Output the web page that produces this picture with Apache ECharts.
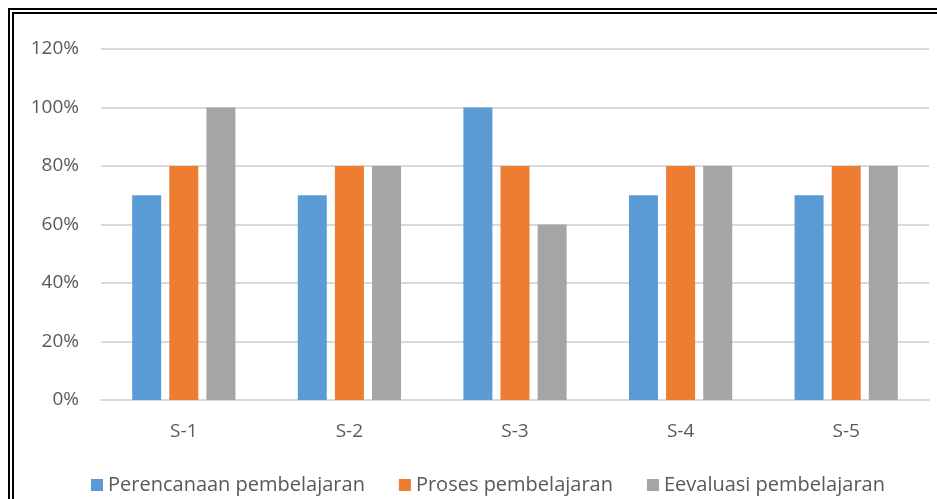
<!DOCTYPE html>
<html>
<head>
<meta charset="utf-8">
<script src="https://cdn.jsdelivr.net/npm/echarts@6/dist/echarts.min.js"></script>
<style>
  html, body { margin: 0; padding: 0; background: #fff; overflow: hidden; }
  #frame {
    position: absolute; left: 8px; top: 8px;
    width: 1000px; height: 600px;
    border: 6px double #000; box-sizing: border-box;
  }
  #main { position: absolute; left: 0; top: 0; width: 937px; height: 499px; }
</style>
</head>
<body>
<div id="frame"></div>
<div id="main"></div>
<script>
const categories = ["S-1", "S-2", "S-3", "S-4", "S-5"];
const perencanaan = [70, 70, 100, 70, 70];
const proses = [80, 80, 80, 80, 80];
const evaluasi = [100, 80, 60, 80, 80];
const seriesNames = ["Perencanaan pembelajaran", "Proses pembelajaran", "Eevaluasi pembelajaran"];
const colors = ["#5B9BD5", "#ED7D31", "#A5A5A5"];

const font = "'Open Sans', 'Liberation Sans', sans-serif";
var myChart = echarts.init(document.getElementById("main"));
var option = {
  animation: false,
  color: colors,
  textStyle: { fontFamily: font },
  grid: { left: 101, right: 8, top: 49, bottom: 99 },
  legend: {
    top: 470,
    left: 86,
    itemWidth: 12,
    itemHeight: 12,
    itemGap: 34,
    icon: "rect",
    textStyle: { fontSize: 20, color: "#595959", fontFamily: font },
    data: seriesNames
  },
  xAxis: {
    type: "category",
    data: categories,
    axisTick: { show: false },
    axisLine: { lineStyle: { color: "#D9D9D9", width: 2 } },
    axisLabel: { fontSize: 19, color: "#595959", margin: 22 }
  },
  yAxis: {
    type: "value",
    min: 0,
    max: 120,
    interval: 20,
    axisLine: { show: false },
    axisTick: { show: false },
    splitLine: { lineStyle: { color: "#D9D9D9", width: 2 } },
    axisLabel: { fontSize: 19, color: "#595959", margin: 22, formatter: "{value}%" }
  },
  series: [
    { name: seriesNames[0], type: "bar", data: perencanaan, barWidth: 29, barGap: "28%" },
    { name: seriesNames[1], type: "bar", data: proses, barWidth: 29, barGap: "28%" },
    { name: seriesNames[2], type: "bar", data: evaluasi, barWidth: 29, barGap: "28%" }
  ]
};
myChart.setOption(option);
</script>
</body>
</html>
